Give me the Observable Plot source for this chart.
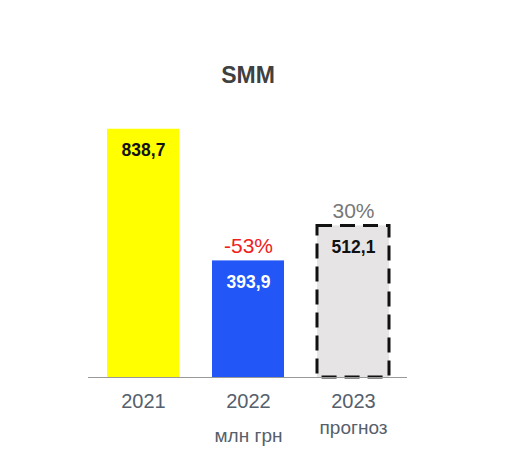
<!DOCTYPE html>
<html>
<head>
<meta charset="utf-8">
<script src="https://cdn.jsdelivr.net/npm/d3@7"></script>
<script src="https://cdn.jsdelivr.net/npm/@observablehq/plot@0.6"></script>
<style>
  html, body { margin: 0; padding: 0; background: #fff; }
  #chart svg { display: block; }
</style>
</head>
<body>
<div id="chart"></div>
<script>
const title = "SMM";
const years = ["2021", "2022", "2023"];
const values = [838.7, 393.9, 512.1];
const changes = ["", "-53%", "30%"];
const unitNote = "млн грн";
const unitYear = "2022";
const forecastNote = "прогноз";
const forecastYear = "2023";

const fills = ["#ffff00", "#2356f6", "#e6e4e4"];
const labelColors = ["#111", "#fff", "#111"];
const changeColors = ["#fff", "#f02020", "#777"];

const data = years.map((y, i) => ({year: y, value: values[i], change: changes[i], i}));
const solid = data.filter(d => d.i < 2);
const forecast = data.filter(d => d.i === 2);
const fmt = v => v.toFixed(1).replace(".", ",");

const chart = Plot.plot({
  width: 507,
  height: 462,
  marginLeft: 88,
  marginRight: 100,
  marginTop: 81,
  marginBottom: 85,
  style: {fontFamily: "'Liberation Sans', Arial, sans-serif", background: "#fff"},
  x: {domain: years, padding: 0.3175, paddingOuter: 0.171, label: null, tickSize: 0},
  y: {domain: [0, 1000], axis: null},
  marks: [
    Plot.barY(solid, {x: "year", y: "value", fill: d => fills[d.i]}),
    Plot.barY(forecast, {x: "year", y: "value", fill: fills[2], stroke: "#111", strokeWidth: 3, strokeDasharray: "15,8"}),
    Plot.ruleY([0], {stroke: "#999", strokeWidth: 1.2}),
    Plot.axisX({tickSize: 0, tickPadding: 16, fontSize: 20, color: "#55606c", label: null}),
    Plot.text(data, {x: "year", y: "value", text: d => fmt(d.value), dy: 21, fill: d => labelColors[d.i], fontSize: 17.5, fontWeight: "bold"}),
    Plot.text(data.filter(d => d.change), {x: "year", y: "value", text: "change", dy: -15, fill: d => changeColors[d.i], fontSize: 21}),
    Plot.text([unitNote], {x: () => unitYear, y: () => 0, text: d => d, dy: 58, fill: "#55606c", fontSize: 19}),
    Plot.text([forecastNote], {x: () => forecastYear, y: () => 0, text: d => d, dy: 50, fill: "#55606c", fontSize: 19}),
    Plot.text([title], {frameAnchor: "top", dy: -15, text: d => d, fontSize: 23, fontWeight: "bold", fill: "#404040"})
  ]
});
document.getElementById("chart").append(chart);
</script>
</body>
</html>
